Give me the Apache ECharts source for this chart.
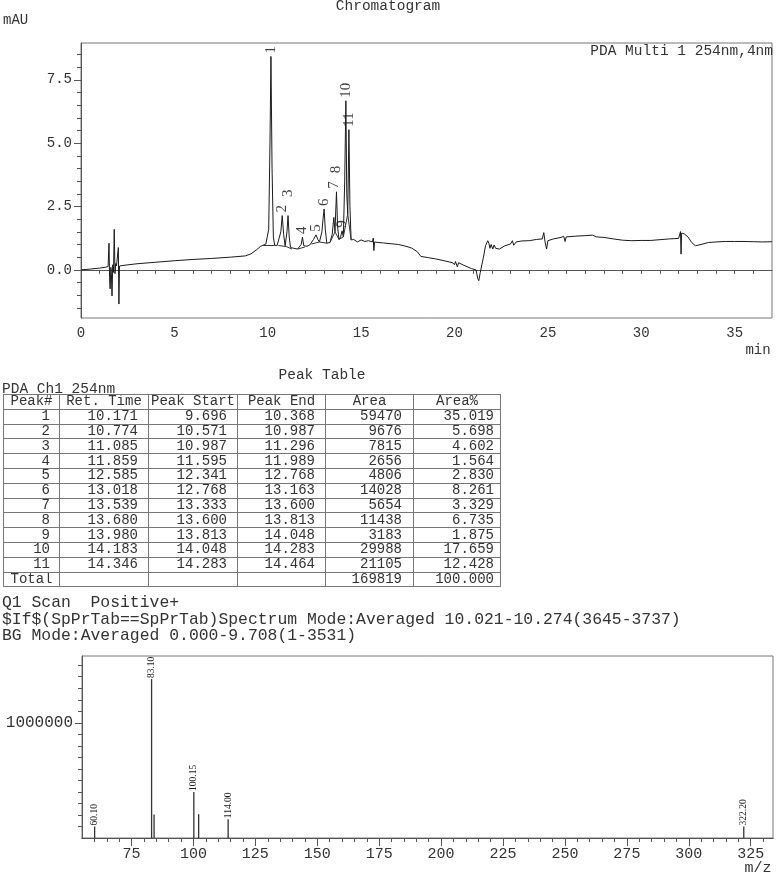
<!DOCTYPE html>
<html><head><meta charset="utf-8">
<script src="https://cdn.jsdelivr.net/npm/echarts@6/dist/echarts.min.js"></script>
<style>
html,body{margin:0;padding:0;background:#fff;}
#wrap{position:relative;width:777px;height:879px;overflow:hidden;}
#chart{position:absolute;left:0;top:0;width:777px;height:879px;}
#tbl{position:absolute;left:3px;top:394px;border-collapse:collapse;table-layout:fixed;width:497px;font-family:'Liberation Mono',monospace;font-size:14px;color:#333;}
#tbl td{border:1px solid #777;height:13.8px;padding:0;line-height:13px;white-space:pre;overflow:hidden;}
</style></head>
<body><div id="wrap"><div id="chart"></div><table id="tbl"></table></div>
<script>
// ---------- Peak table data ----------
const peakNo    = [1, 2, 3, 4, 5, 6, 7, 8, 9, 10, 11];
const retTime   = [10.171, 10.774, 11.085, 11.859, 12.585, 13.018, 13.539, 13.680, 13.980, 14.183, 14.346];
const peakStart = [9.696, 10.571, 10.987, 11.595, 12.341, 12.768, 13.333, 13.600, 13.813, 14.048, 14.283];
const peakEnd   = [10.368, 10.987, 11.296, 11.989, 12.768, 13.163, 13.600, 13.813, 14.048, 14.283, 14.464];
const peakArea  = [59470, 9676, 7815, 2656, 4806, 14028, 5654, 11438, 3183, 29988, 21105];
const areaPct   = [35.019, 5.698, 4.602, 1.564, 2.830, 8.261, 3.329, 6.735, 1.875, 17.659, 12.428];
const totalArea = 169819;
const totalPct  = 100.000;

// ---------- Chromatogram trace (min, mAU) ----------
const traceTime = [0.0,0.5,1.0,1.3,1.45,1.50,1.53,1.56,1.60,1.63,1.66,1.70,1.74,1.78,1.82,1.86,1.90,1.97,2.00,2.03,2.06,2.2,3.0,4.0,5.0,6.0,7.0,8.0,8.8,9.1,9.4,9.6,9.696,9.9,10.05,10.12,10.171,10.23,10.3,10.368,10.5,10.571,10.70,10.774,10.85,10.93,10.987,11.03,11.085,11.15,11.22,11.296,11.4,11.5,11.595,11.7,11.79,11.859,11.93,11.989,12.1,12.25,12.341,12.45,12.585,12.68,12.768,12.9,12.96,13.018,13.08,13.163,13.25,13.333,13.45,13.539,13.60,13.68,13.74,13.813,13.9,13.98,14.048,14.12,14.183,14.23,14.283,14.346,14.40,14.464,14.6,14.8,15.0,15.2,15.4,15.6,15.65,15.68,15.72,15.9,16.2,16.6,17.0,17.4,17.7,18.0,18.2,18.6,19.0,19.5,19.9,20.0,20.05,20.15,20.22,20.5,20.9,21.15,21.25,21.3,21.38,21.45,21.55,21.66,21.78,21.84,21.9,21.96,22.05,22.12,22.2,22.4,22.7,23.0,23.1,23.17,23.3,23.6,24.0,24.4,24.7,24.78,24.85,24.93,25.0,25.3,25.7,25.85,25.92,25.98,26.5,27.0,27.4,27.6,28.0,28.5,29.0,29.5,30.0,30.5,31.0,31.5,32.0,32.1,32.13,32.16,32.3,32.5,32.7,32.9,33.2,33.6,34.0,34.5,35.0,35.5,36.0,36.5,37.0];
const traceMAU  = [0.00,0.03,0.07,0.10,0.13,1.05,-0.30,-0.75,0.10,-0.20,-1.03,0.20,-0.10,1.60,-0.15,0.25,0.15,0.20,0.88,-1.35,0.15,0.17,0.24,0.30,0.36,0.41,0.45,0.50,0.55,0.63,0.79,0.92,0.96,1.02,1.60,5.00,8.42,4.00,1.30,0.97,0.96,0.96,1.50,2.14,1.40,0.95,0.92,1.50,2.14,1.30,0.88,0.82,0.85,0.78,0.82,0.85,1.00,1.29,0.95,0.90,0.93,0.98,1.02,1.20,1.38,1.20,1.10,1.50,2.00,2.40,1.60,1.05,1.06,1.08,1.40,2.07,1.50,3.08,1.70,1.20,1.30,1.54,1.30,3.50,6.67,3.00,2.20,5.53,2.50,1.18,1.20,1.10,1.18,1.12,1.15,1.10,1.25,0.76,1.10,1.08,1.06,1.03,1.00,0.93,0.86,0.72,0.53,0.48,0.43,0.35,0.28,0.20,0.33,0.12,0.28,0.18,0.05,0.00,-0.35,-0.43,-0.10,-0.15,0.50,0.95,1.15,1.05,0.85,1.00,0.82,0.98,0.85,0.82,0.95,1.02,1.15,0.97,1.10,1.14,1.15,1.20,1.22,1.47,1.10,0.82,1.15,1.22,1.28,1.32,1.12,1.30,1.33,1.35,1.37,1.30,1.28,1.22,1.17,1.15,1.16,1.16,1.19,1.22,1.24,1.51,0.62,1.45,1.42,1.30,1.08,0.95,1.00,1.08,1.10,1.12,1.12,1.12,1.11,1.10,1.11];

// ---------- Chromatogram axis ticks ----------
const chromYLabels = [0, 2.5, 5, 7.5];
const chromYMinor  = [-1.5,-1,-0.5,0,0.5,1,1.5,2,2.5,3,3.5,4,4.5,5,5.5,6,6.5,7,7.5,8,8.5];

// ---------- Mass spectrum ----------
const msMz        = [60.10, 83.10, 84.10, 100.15, 102.10, 114.00, 322.20];
const msIntensity = [100000, 1380000, 203000, 400000, 206000, 163000, 100000];
const msLabel     = ['60.10', '83.10', '', '100.15', '', '114.00', '322.20'];
const msXLabels   = [75, 100, 125, 150, 175, 200, 225, 250, 275, 300, 325];
const msXMinor    = [60,65,70,75,80,85,90,95,100,105,110,115,120,125,130,135,140,145,150,155,160,165,170,175,180,185,190,195,200,205,210,215,220,225,230,235,240,245,250,255,260,265,270,275,280,285,290,295,300,305,310,315,320,325,330];
const msYLabels   = [1000000];
const msYMinor    = [100000,200000,300000,400000,500000,600000,700000,800000,900000,1000000,1100000,1200000,1300000,1400000,1500000];

// ---------- Table (HTML) ----------
(function buildTable(){
  const tbl = document.getElementById('tbl');
  const widths = [56, 89, 89, 88, 88, 87];
  const pads = [9, 10, 10, 10, 11, 6];
  let html = '<colgroup>' + widths.map(w => '<col style="width:' + w + 'px">').join('') + '</colgroup>';
  const hdr = ['Peak#', 'Ret. Time', 'Peak Start', 'Peak End', 'Area', 'Area%'];
  html += '<tr>' + hdr.map(h => '<td style="text-align:center">' + h + '</td>').join('') + '</tr>';
  peakNo.forEach((n, i) => {
    const cells = [String(n), retTime[i].toFixed(3), peakStart[i].toFixed(3), peakEnd[i].toFixed(3), String(peakArea[i]), areaPct[i].toFixed(3)];
    html += '<tr>' + cells.map((c, k) => '<td style="text-align:right;padding-right:' + pads[k] + 'px">' + c + '</td>').join('') + '</tr>';
  });
  const tot = ['Total', '', '', '', String(totalArea), totalPct.toFixed(3)];
  html += '<tr>' + tot.map((c, k) => k === 0 ? '<td style="text-align:center">' + c + '</td>' : '<td style="text-align:right;padding-right:' + pads[k] + 'px">' + c + '</td>').join('') + '</tr>';
  tbl.innerHTML = html;
})();

function valueAt(t){
  for (let k = 0; k < traceTime.length - 1; k++) {
    if (t >= traceTime[k] && t <= traceTime[k+1]) {
      const f = (t - traceTime[k]) / (traceTime[k+1] - traceTime[k]);
      return traceMAU[k] + f * (traceMAU[k+1] - traceMAU[k]);
    }
  }
  return traceMAU[traceMAU.length - 1];
}

const MONO = "'Liberation Mono', monospace";
const SERIF = "'Liberation Serif', serif";
const TXT = '#333';
const AX = '#555';

const chart = echarts.init(document.getElementById('chart'), null, {renderer: 'canvas'});

const traceData = traceTime.map((t, i) => [t, traceMAU[i]]);
const baselines = peakNo.map((n, i) => [
  {coord: [peakStart[i], valueAt(peakStart[i])]},
  {coord: [peakEnd[i], valueAt(peakEnd[i])]}
]);
const seriesName = 'PDA Multi 1 254nm,4nm';

function peakLabelData(dists){
  return retTime.map((rt, i) => ({
    value: [rt, valueAt(rt)],
    label: {distance: dists ? dists[i] : 3}
  }));
}

const option = {
  animation: false,
  textStyle: {fontFamily: MONO},
  grid: [
    {left: 81, top: 43, width: 691, height: 275, show: true, borderColor: '#777', borderWidth: 1},
    {left: 82, top: 656, width: 691, height: 182, show: true, borderColor: '#777', borderWidth: 1}
  ],
  legend: {
    data: [seriesName], right: 4, top: 44, icon: 'none', itemWidth: 0, itemGap: 0, padding: 0,
    selectedMode: false, textStyle: {fontFamily: MONO, fontSize: 14.5, color: TXT, padding: 0}
  },
  xAxis: [
    {type: 'value', gridIndex: 0, position: 'bottom', min: 0, max: 37, interval: 1,
     axisLine: {lineStyle: {color: AX}}, splitLine: {show: false},
     axisTick: {length: 4, lineStyle: {color: AX}},
     axisLabel: {margin: 8, fontFamily: MONO, fontSize: 14, color: TXT,
                 formatter: v => (v % 5 === 0 ? String(v) : ''), showMaxLabel: false}},
    {type: 'value', gridIndex: 1, position: 'bottom', min: 55, max: 334,
     axisLine: {lineStyle: {color: AX}}, splitLine: {show: false},
     axisTick: {length: 4, customValues: msXMinor, lineStyle: {color: AX}},
     axisLabel: {show: false}},
    {type: 'value', gridIndex: 1, position: 'bottom', min: 55, max: 334,
     axisLine: {lineStyle: {color: AX}}, splitLine: {show: false},
     axisTick: {length: 8, customValues: msXLabels, lineStyle: {color: AX}},
     axisLabel: {margin: 9, customValues: msXLabels, fontFamily: MONO, fontSize: 15, color: TXT}}
  ],
  yAxis: [
    {type: 'value', gridIndex: 0, position: 'left', min: -1.9, max: 8.95,
     axisLine: {show: true, lineStyle: {color: AX}}, splitLine: {show: false},
     axisTick: {show: true, length: 4, customValues: chromYMinor, lineStyle: {color: AX}},
     axisLabel: {margin: 9, customValues: chromYLabels, fontFamily: MONO, fontSize: 14, color: TXT,
                 formatter: v => v.toFixed(1)}},
    {type: 'value', gridIndex: 0, position: 'left', min: -1.9, max: 8.95,
     axisLine: {show: false}, splitLine: {show: false},
     axisTick: {show: true, length: 7, customValues: chromYLabels, lineStyle: {color: AX}},
     axisLabel: {show: false}},
    {type: 'value', gridIndex: 1, position: 'left', min: 0, max: 1580000,
     axisLine: {show: true, lineStyle: {color: AX}}, splitLine: {show: false},
     axisTick: {show: true, length: 4, customValues: msYMinor, lineStyle: {color: AX}},
     axisLabel: {margin: 9, customValues: msYLabels, fontFamily: MONO, fontSize: 16, color: TXT,
                 formatter: v => String(v)}},
    {type: 'value', gridIndex: 1, position: 'left', min: 0, max: 1580000,
     axisLine: {show: false}, splitLine: {show: false},
     axisTick: {show: true, length: 7, customValues: msYLabels, lineStyle: {color: AX}},
     axisLabel: {show: false}}
  ],
  series: [
    {name: seriesName, type: 'line', xAxisIndex: 0, yAxisIndex: 0, data: traceData,
     showSymbol: false, symbol: 'none', lineStyle: {color: '#1a1a1a', width: 1}, clip: true,
     markLine: {silent: true, symbol: ['none', 'none'], label: {show: false},
                lineStyle: {color: '#333', width: 1, type: 'solid'}, data: baselines}},
    {name: 'peaks', type: 'scatter', xAxisIndex: 0, yAxisIndex: 0, symbolSize: 0.1,
     itemStyle: {color: 'rgba(0,0,0,0)'}, silent: true,
     data: peakLabelData(null),
     label: {show: true, position: 'top', rotate: 90, align: 'left', verticalAlign: 'middle',
             fontFamily: SERIF, fontSize: 15, color: '#111',
             formatter: p => String(peakNo[p.dataIndex])}},
    {name: 'ms', type: 'bar', xAxisIndex: 2, yAxisIndex: 2, barWidth: 1.3,
     data: msMz.map((m, i) => [m, msIntensity[i]]),
     itemStyle: {color: '#333'}, silent: true,
     label: {show: true, position: 'top', distance: 1, rotate: 90, align: 'left', verticalAlign: 'middle',
             fontFamily: SERIF, fontSize: 9.5, color: '#222',
             formatter: p => msLabel[p.dataIndex]}}
  ],
  graphic: [
    {type: 'text', x: 388, y: 6, style: {text: 'Chromatogram', font: "14.5px 'Liberation Mono'", fill: TXT, textAlign: 'center', textVerticalAlign: 'middle'}},
    {type: 'text', x: 3, y: 20, style: {text: 'mAU', font: "14px 'Liberation Mono'", fill: TXT, textAlign: 'left', textVerticalAlign: 'middle'}},
    {type: 'text', x: 758, y: 350, style: {text: 'min', font: "14px 'Liberation Mono'", fill: TXT, textAlign: 'center', textVerticalAlign: 'middle'}},
    {type: 'text', x: 322, y: 375, style: {text: 'Peak Table', font: "14.5px 'Liberation Mono'", fill: TXT, textAlign: 'center', textVerticalAlign: 'middle'}},
    {type: 'text', x: 2, y: 389, style: {text: 'PDA Ch1 254nm', font: "14.5px 'Liberation Mono'", fill: TXT, textAlign: 'left', textVerticalAlign: 'middle'}},
    {type: 'text', x: 2, y: 603, style: {text: 'Q1 Scan  Positive+', font: "16.4px 'Liberation Mono'", fill: TXT, textAlign: 'left', textVerticalAlign: 'middle'}},
    {type: 'text', x: 2, y: 620, style: {text: '$If$(SpPrTab==SpPrTab)Spectrum Mode:Averaged 10.021-10.274(3645-3737)', font: "16.4px 'Liberation Mono'", fill: TXT, textAlign: 'left', textVerticalAlign: 'middle'}},
    {type: 'text', x: 2, y: 636, style: {text: 'BG Mode:Averaged 0.000-9.708(1-3531)', font: "16.4px 'Liberation Mono'", fill: TXT, textAlign: 'left', textVerticalAlign: 'middle'}},
    {type: 'text', x: 758, y: 868, style: {text: 'm/z', font: "15px 'Liberation Mono'", fill: TXT, textAlign: 'center', textVerticalAlign: 'middle'}}
  ]
};
chart.setOption(option);

// place peak labels: above tip (or a neighbouring taller tip), stacked if they collide
(function placeLabels(){
  const placed = [];
  const dists = [];
  retTime.forEach((rt, i) => {
    const p = chart.convertToPixel({xAxisIndex: 0, yAxisIndex: 0}, [rt, valueAt(rt)]);
    let top = p[1];
    retTime.forEach((rt2) => {
      if (Math.abs(rt2 - rt) <= 0.15) {
        const q = chart.convertToPixel({xAxisIndex: 0, yAxisIndex: 0}, [rt2, valueAt(rt2)]);
        top = Math.min(top, q[1]);
      }
    });
    const len = String(peakNo[i]).length * 7.5;
    let bottom = top - 3;
    let changed = true;
    while (changed) {
      changed = false;
      for (const L of placed) {
        if (Math.abs(L.x - p[0]) < 9 && bottom > L.top - 8 && bottom - len < L.bottom + 8) {
          bottom = L.top - 8; changed = true;
        }
      }
    }
    placed.push({x: p[0], top: bottom - len, bottom: bottom});
    dists.push(p[1] - bottom);
  });
  chart.setOption({series: [{}, {data: peakLabelData(dists)}]});
})();
</script></body></html>
